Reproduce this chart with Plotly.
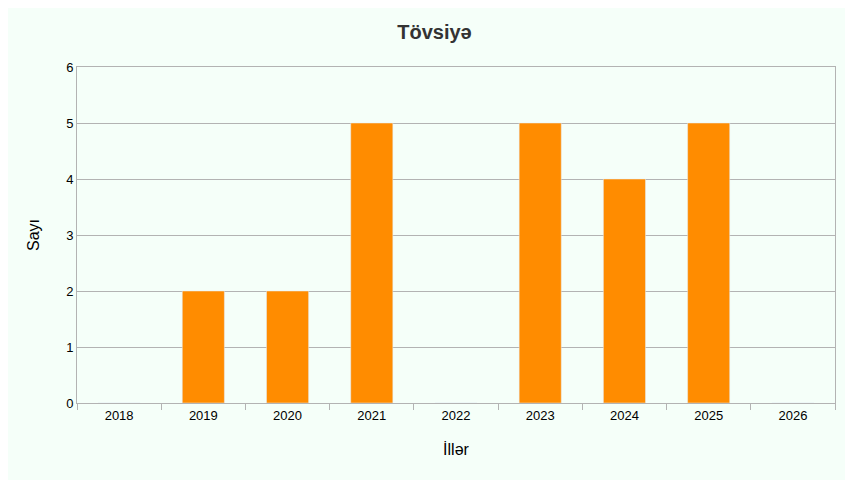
import plotly.graph_objects as go

years = ["2018", "2019", "2020", "2021", "2022", "2023", "2024", "2025", "2026"]
counts = [0, 2, 2, 5, 0, 5, 4, 5, 0]

fig = go.Figure()
fig.add_trace(go.Bar(x=years, y=counts, marker_color="#FF8C00", width=0.5))

fig.update_layout(
    width=853, height=480,
    paper_bgcolor="#F5FFF9", plot_bgcolor="#F5FFF9",
    font=dict(family="Liberation Sans", size=13, color="#000"),
    title=dict(text="<b>Tövsiyə</b>", x=0.5, y=0.965, xanchor="center",
               font=dict(size=20, color="#333")),
    margin=dict(l=69, r=26, t=59, b=85),
    showlegend=False,
)
fig.update_xaxes(
    title=dict(text="İllər", font=dict(size=16), standoff=22),
    type="category", tickson="boundaries", ticks="outside", ticklen=6,
    tickcolor="#b3b3b3", showline=True, linecolor="#b3b3b3", mirror=True,
    tickfont=dict(size=13),
)
fig.update_yaxes(
    title=dict(text="Sayı", font=dict(size=16), standoff=22),
    range=[0, 6], dtick=1, gridcolor="#b3b3b3", showline=True,
    linecolor="#b3b3b3", mirror=True, ticks="", zeroline=False,
    tickfont=dict(size=13),
)
fig.write_html("out.html")
